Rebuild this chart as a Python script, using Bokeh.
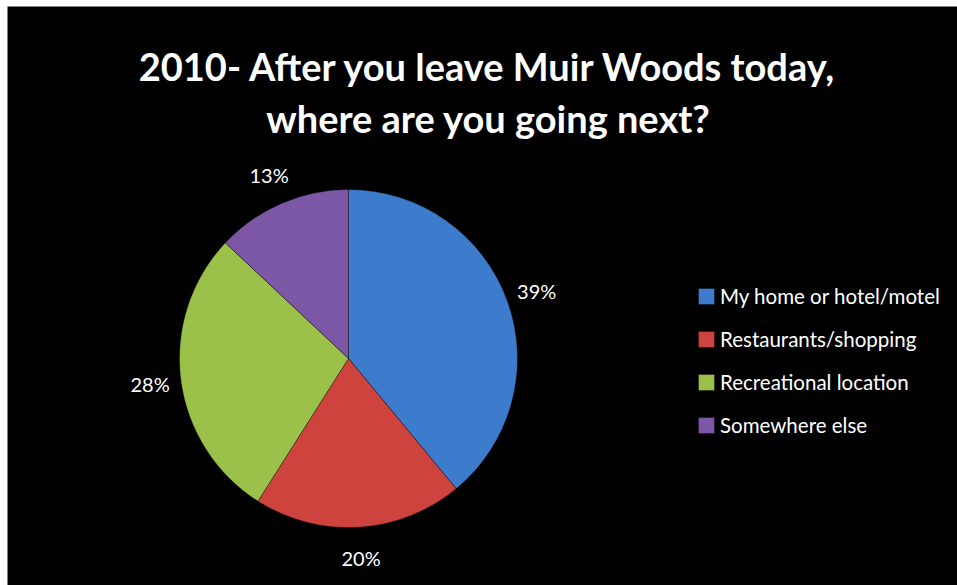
import math
from bokeh.plotting import figure
from bokeh.models import ColumnDataSource, Range1d, Label, Legend, LegendItem
from bokeh.core.properties import value
from bokeh.embed import file_html
from bokeh.resources import INLINE

# ---- data ----
TITLE_LINES = ["2010- After you leave Muir Woods today,", "where are you going next?"]
CATEGORIES = ["My home or hotel/motel", "Restaurants/shopping", "Recreational location", "Somewhere else"]
PERCENTS = [39, 20, 28, 13]
COLORS = ["#3d7bcc", "#cf433f", "#9cc14a", "#7c57a6"]

# ---- layout constants ----
W, H = 957, 585
ML, MT = 7, 6          # white strip at left / top like the reference
FW, FH = W - ML, H - MT
CX, CY, R = 341, 227, 169
R_LAB = 200
FONT = "Lato"

p = figure(width=W, height=H, output_backend="svg", toolbar_location=None,
           x_range=Range1d(0, FW), y_range=Range1d(0, FH),
           x_axis_location=None, y_axis_location=None,
           min_border_left=ML, min_border_top=MT, min_border_right=0, min_border_bottom=0,
           background_fill_color="black", border_fill_color="white",
           outline_line_color=None)
p.grid.visible = False

total = float(sum(PERCENTS))
starts, ends, mids = [], [], []
acc = 0
for v in PERCENTS:
    a0 = math.pi / 2 - 2 * math.pi * acc / total
    acc += v
    a1 = math.pi / 2 - 2 * math.pi * acc / total
    starts.append(a0)
    ends.append(a1)
    mids.append((a0 + a1) / 2)

src = ColumnDataSource(dict(
    category=CATEGORIES, pct=PERCENTS, color=COLORS,
    start=starts, end=ends,
    lx=[CX + R_LAB * math.cos(m) for m in mids],
    ly=[CY + R_LAB * math.sin(m) for m in mids],
    label=[f"{v}%" for v in PERCENTS],
))

wedges = p.wedge(x=CX, y=CY, radius=R, start_angle="start", end_angle="end",
                 direction="clock", fill_color="color", line_color="black",
                 line_alpha=0.35, line_width=1, source=src)

p.text(x="lx", y="ly", text="label", source=src, text_color="white",
       text_font=value(FONT), text_font_size="20px", text_align="center",
       text_baseline="middle")

# title
for i, line in enumerate(TITLE_LINES):
    p.add_layout(Label(x=481, y=520 - 52 * i, text=line, text_align="center",
                       text_baseline="alphabetic", text_color="white",
                       text_font=FONT, text_font_style="bold",
                       text_font_size="38px"))

legend = Legend(
    items=[LegendItem(label=c, renderers=[wedges], index=i) for i, c in enumerate(CATEGORIES)],
    location=(689, 148), background_fill_alpha=0, border_line_color=None,
    label_text_color="white", label_text_font=FONT, label_text_font_size="20.5px",
    glyph_width=20, glyph_height=20, label_height=25, label_standoff=4,
    spacing=18, padding=0, margin=0)
p.add_layout(legend)

open("out.html", "w").write(file_html(p, INLINE))
